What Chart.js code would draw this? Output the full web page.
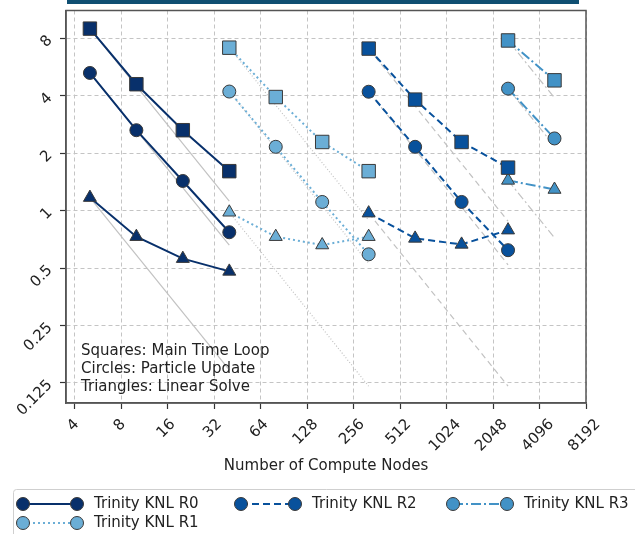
<!DOCTYPE html>
<html>
<head>
<meta charset="utf-8">
<script src="https://cdn.jsdelivr.net/npm/chart.js@4/dist/chart.umd.min.js"></script>
<style>
  body { margin: 0; background: #fff; }
  canvas { display: block; }
</style>
</head>
<body>
<canvas id="scaleChart" width="635" height="534"></canvas>
<script>
// tick values (log2 axes)
const xTicks = [4, 8, 16, 32, 64, 128, 256, 512, 1024, 2048, 4096, 8192];
const yTicks = [0.125, 0.25, 0.5, 1, 2, 4, 8];

// node counts per run
const nodesR0 = [5, 10, 20, 40];
const nodesR1 = [40, 80, 160, 320];
const nodesR2 = [320, 640, 1280, 2560];
const nodesR3 = [2560, 5120];

// timings (squares / circles / triangles)
const loopR0 = [9.0, 4.6, 2.64, 1.61];
const particleR0 = [5.27, 2.64, 1.43, 0.77];
const solveR0 = [1.17, 0.73, 0.56, 0.48];

const loopR1 = [7.15, 3.94, 2.29, 1.61];
const particleR1 = [4.21, 2.16, 1.11, 0.59];
const solveR1 = [0.98, 0.73, 0.66, 0.73];

const loopR2 = [7.07, 3.82, 2.29, 1.68];
const particleR2 = [4.2, 2.16, 1.11, 0.62];
const solveR2 = [0.97, 0.715, 0.665, 0.79];

const loopR3 = [7.8, 4.82];
const particleR3 = [4.36, 2.39];
const solveR3 = [1.44, 1.29];

// end value of the grey ideal-scaling guides (loop, particle, solve)
const idealEndR0 = [1.12, 0.66, 0.146];
const idealEndR1 = [0.89, 0.53, 0.12];
const idealEndR2 = [0.88, 0.52, 0.12];
const idealEndR3 = [3.9, 2.18, 0.72];

const seriesNames = ['Trinity KNL R0', 'Trinity KNL R1', 'Trinity KNL R2', 'Trinity KNL R3'];
const annotation = ['Squares: Main Time Loop', 'Circles: Particle Update', 'Triangles: Linear Solve'];

// styling
const colors = ['#08306b', '#6baed6', '#08519c', '#4292c6'];
const dashes = [[], [2, 3], [7, 4], [10, 3, 2, 3]];
const idealDashes = [[], [1, 2], [6, 4], [8, 3, 2, 3]];
const markers = ['rect', 'circle', 'triangle'];
const markerSize = [9.5, 6.5, 7.5];
const FONT = '15px "DejaVu Sans"';

const runs = [
  { nodes: nodesR0, vals: [loopR0, particleR0, solveR0], ideal: idealEndR0 },
  { nodes: nodesR1, vals: [loopR1, particleR1, solveR1], ideal: idealEndR1 },
  { nodes: nodesR2, vals: [loopR2, particleR2, solveR2], ideal: idealEndR2 },
  { nodes: nodesR3, vals: [loopR3, particleR3, solveR3], ideal: idealEndR3 }
];

let datasets = [];
for (let r = 0; r < runs.length; r++) {
  let run = runs[r];
  let last = run.nodes.length - 1;
  for (let m = 0; m < 3; m++) {
    // ideal scaling guide
    datasets.push({
      data: [{ x: run.nodes[0], y: run.vals[m][0] }, { x: run.nodes[last], y: run.ideal[m] }],
      showLine: true,
      borderColor: '#c2c2c2',
      borderWidth: 1.2,
      borderDash: idealDashes[r],
      pointRadius: 0,
      order: 5
    });
    // measured
    datasets.push({
      label: seriesNames[r],
      data: run.nodes.map((x, i) => ({ x: x, y: run.vals[m][i] })),
      showLine: true,
      borderColor: colors[r],
      borderWidth: 2,
      borderDash: dashes[r],
      backgroundColor: colors[r],
      pointStyle: markers[m],
      pointRadius: markerSize[m],
      pointHoverRadius: markerSize[m],
      pointBackgroundColor: colors[r],
      pointBorderColor: '#3a3a3a',
      pointBorderWidth: 1,
      order: 0
    });
  }
}

//plugin for the frame, rotated x labels, note and legend
const decor = {
  id: 'decor',
  beforeDraw(chart) {
    let ctx = chart.ctx;
    ctx.save();
    ctx.fillStyle = '#fff';
    ctx.fillRect(0, 0, chart.width, chart.height);
    ctx.fillStyle = '#0f4f72';
    ctx.fillRect(67, 0, 512, 4);
    ctx.restore();
  },
  afterDraw(chart) {
    let ctx = chart.ctx;
    let area = chart.chartArea;
    let xs = chart.scales.x;
    ctx.save();
    ctx.strokeStyle = '#555';
    ctx.lineWidth = 1.5;
    ctx.strokeRect(area.left, area.top, area.right - area.left, area.bottom - area.top);

    // x tick labels, rotated 45deg and centred on the tick
    ctx.font = FONT;
    ctx.fillStyle = '#222';
    ctx.textAlign = 'center';
    ctx.textBaseline = 'middle';
    xTicks.forEach(v => {
      let px = xs.getPixelForValue(v);
      let w = ctx.measureText(String(v)).width;
      let half = (w + 17) / Math.SQRT2 / 2;
      ctx.save();
      ctx.translate(px - 1.5, area.bottom + 13 + half);
      ctx.rotate(-Math.PI / 4);
      ctx.fillText(String(v), 0, 0);
      ctx.restore();
    });

    // note in lower left
    ctx.textAlign = 'left';
    annotation.forEach((t, i) => ctx.fillText(t, area.left + 15, area.bottom - 52 + i * 18));

    // legend
    ctx.strokeStyle = '#cfcfcf';
    ctx.lineWidth = 1;
    ctx.beginPath();
    ctx.roundRect(13.5, 489.5, 660, 80, 3);
    ctx.stroke();
    let slots = [[23, 504], [23, 523], [241, 504], [453, 504]];
    slots.forEach((s, r) => {
      let x1 = s[0], x2 = s[0] + 54, y = s[1];
      ctx.strokeStyle = colors[r];
      ctx.lineWidth = 2;
      ctx.setLineDash(dashes[r]);
      ctx.beginPath();
      ctx.moveTo(x1, y);
      ctx.lineTo(x2, y);
      ctx.stroke();
      ctx.setLineDash([]);
      [x1, x2].forEach(cx => {
        ctx.beginPath();
        ctx.arc(cx, y, 6.5, 0, Math.PI * 2);
        ctx.fillStyle = colors[r];
        ctx.fill();
        ctx.strokeStyle = '#3a3a3a';
        ctx.lineWidth = 1;
        ctx.stroke();
      });
      ctx.fillStyle = '#222';
      ctx.fillText(seriesNames[r], x2 + 17, y);
    });
    ctx.restore();
  }
};

// keep the plot box fixed whatever the rotated labels need
function fixPadding(scale) {
  scale.paddingTop = 0;
  scale.paddingBottom = 0;
  scale.paddingLeft = 0;
  scale.paddingRight = 0;
}

let elChart = document.getElementById('scaleChart').getContext('2d');
let scaleChart = new Chart(elChart, {
  type: 'scatter',
  data: { datasets: datasets },
  plugins: [decor],
  options: {
    responsive: false,
    animation: false,
    devicePixelRatio: 1,
    layout: { padding: { top: 10, right: 49, bottom: 51, left: 0 } },
    plugins: { legend: { display: false }, tooltip: { enabled: false } },
    events: [],
    scales: {
      x: {
        type: 'logarithmic',
        min: 3.5,
        max: 8192,
        afterBuildTicks: scale => { scale.ticks = xTicks.map(v => ({ value: v })); },
        afterFit: scale => { scale.height = 80; fixPadding(scale); },
        ticks: {
          autoSkip: false,
          minRotation: 45,
          maxRotation: 45,
          color: 'rgba(0,0,0,0)',
          font: { family: 'DejaVu Sans', size: 15 },
          callback: v => String(v)
        },
        grid: { color: '#c4c4c4', lineWidth: 1, tickLength: 6, tickColor: '#333', tickWidth: 1.2, tickBorderDash: [] },
        border: { dash: [4, 3], color: '#555', width: 1.5 },
        title: {
          display: true,
          text: 'Number of Compute Nodes',
          color: '#222',
          font: { family: 'DejaVu Sans', size: 15 },
          padding: { top: 4, bottom: 8 }
        }
      },
      y: {
        type: 'logarithmic',
        min: 0.098,
        max: 11.2,
        afterBuildTicks: scale => { scale.ticks = yTicks.map(v => ({ value: v })); },
        afterFit: scale => { scale.width = 66; fixPadding(scale); },
        ticks: {
          autoSkip: false,
          minRotation: 45,
          maxRotation: 45,
          padding: 10,
          color: '#222',
          font: { family: 'DejaVu Sans', size: 15 },
          callback: v => String(v)
        },
        grid: { color: '#c4c4c4', lineWidth: 1, tickLength: 6, tickColor: '#333', tickWidth: 1.2, tickBorderDash: [] },
        border: { dash: [4, 3], color: '#555', width: 1.5 }
      }
    }
  }
});
</script>
</body>
</html>
